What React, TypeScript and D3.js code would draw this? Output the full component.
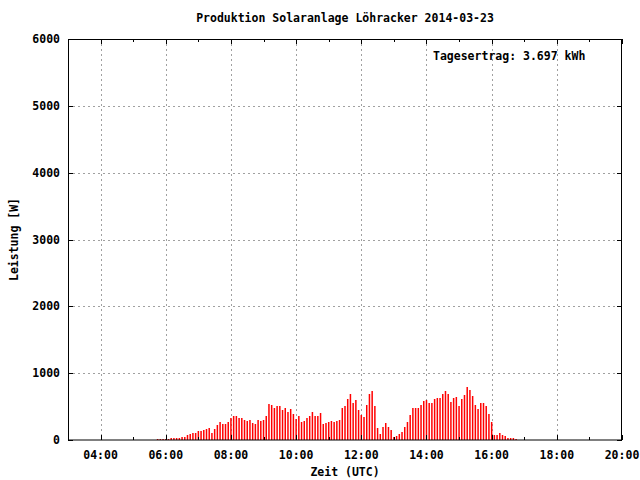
import React from "react";
import * as d3 from "d3";

const TITLE = "Produktion Solaranlage Löhracker 2014-03-23";
const X_LABEL = "Zeit (UTC)";
const Y_LABEL = "Leistung [W]";
const NOTE = "Tagesertrag: 3.697 kWh";

const xTickHours = [4, 6, 8, 10, 12, 14, 16, 18, 20];
const xMinorHours = [3, 5, 7, 9, 11, 13, 15, 17, 19];
const yTicks = [0, 1000, 2000, 3000, 4000, 5000, 6000];

// Power readings (W), 5-minute intervals, grouped per hour
const h05 = [10, 10, 10]; // starts 05:45
const h06 = [15, 15, 30, 30, 30, 30, 45, 45, 75, 90, 105, 105];
const h07 = [135, 135, 150, 165, 180, 105, 165, 225, 270, 240, 240, 270];
const h08 = [330, 360, 360, 330, 330, 300, 285, 300, 255, 240, 300, 285];
const h09 = [300, 360, 540, 525, 480, 510, 510, 450, 480, 420, 465, 390];
const h10 = [315, 360, 270, 285, 330, 360, 420, 360, 360, 405, 240, 255];
const h11 = [270, 285, 270, 285, 300, 480, 510, 615, 690, 555, 600, 450];
const h12 = [375, 345, 525, 690, 735, 510, 180, 90, 195, 255, 195, 150];
const h13 = [45, 60, 90, 120, 195, 270, 375, 480, 480, 480, 525, 585];
const h14 = [600, 555, 555, 615, 630, 630, 690, 735, 690, 570, 630, 645];
const h15 = [510, 615, 675, 795, 750, 660, 525, 465, 555, 555, 510, 390];
const h16 = [270, 75, 75, 105, 75, 60, 30, 30, 30, 15];

const groups = [
  { hour: 5, startMin: 45, values: h05 },
  { hour: 6, startMin: 0, values: h06 },
  { hour: 7, startMin: 0, values: h07 },
  { hour: 8, startMin: 0, values: h08 },
  { hour: 9, startMin: 0, values: h09 },
  { hour: 10, startMin: 0, values: h10 },
  { hour: 11, startMin: 0, values: h11 },
  { hour: 12, startMin: 0, values: h12 },
  { hour: 13, startMin: 0, values: h13 },
  { hour: 14, startMin: 0, values: h14 },
  { hour: 15, startMin: 0, values: h15 },
  { hour: 16, startMin: 0, values: h16 },
];

const points = groups.flatMap((g) =>
  g.values.map((v, i) => ({ t: g.hour + (g.startMin + i * 5) / 60, v }))
);

const FONT = "'DejaVu Sans Mono', 'Liberation Mono', monospace";

export default function App() {
  const left = 68, right = 622, top = 39, bottom = 440;
  const x = d3.scaleLinear().domain([3, 20]).range([left, right]);
  const y = d3.scaleLinear().domain([0, 6000]).range([bottom, top]);
  const fmt = (h: number) => (h < 10 ? "0" : "") + h + ":00";
  const px = (v: number) => Math.round(v) + 0.5;
  const textStyle = { fontFamily: FONT, fontWeight: "bold" as const, fontSize: 11.5 };

  return (
    <svg width={640} height={480} style={{ position: "absolute", left: 0, top: 0, background: "#fff" }}>
      <rect x={0} y={0} width={640} height={480} fill="#fff" />
      {/* grid */}
      <g stroke="#a0a0a0" strokeWidth={1} strokeDasharray="2,3">
        {yTicks.filter((t) => t > 0 && t < 6000).map((t) => (
          <line key={"gy" + t} x1={left} x2={right} y1={px(y(t))} y2={px(y(t))} />
        ))}
        {xTickHours.filter((h) => h < 20).map((h) => (
          <line key={"gx" + h} x1={px(x(h))} x2={px(x(h))} y1={top} y2={bottom} />
        ))}
      </g>
      {/* impulses */}
      <g stroke="#ff0000" strokeWidth={1.5}>
        {points.map((p, i) => (
          <line key={i} x1={x(p.t)} x2={x(p.t)} y1={bottom} y2={Math.round(y(p.v))} />
        ))}
      </g>
      {/* ticks */}
      <g stroke="#000" strokeWidth={1}>
        {yTicks.map((t) => (
          <g key={"ty" + t}>
            <line x1={left} x2={left + 5} y1={px(y(t))} y2={px(y(t))} />
            <line x1={right - 5} x2={right} y1={px(y(t))} y2={px(y(t))} />
          </g>
        ))}
        {xTickHours.map((h) => (
          <g key={"tx" + h}>
            <line x1={px(x(h))} x2={px(x(h))} y1={bottom} y2={bottom - 5} />
            <line x1={px(x(h))} x2={px(x(h))} y1={top} y2={top + 5} />
          </g>
        ))}
        {xMinorHours.map((h) => (
          <g key={"tm" + h}>
            <line x1={px(x(h))} x2={px(x(h))} y1={bottom} y2={bottom - 3} />
            <line x1={px(x(h))} x2={px(x(h))} y1={top} y2={top + 3} />
          </g>
        ))}
      </g>
      {/* border */}
      <rect x={left + 0.5} y={top + 0.5} width={right - left - 1} height={bottom - top - 0.5} fill="none" stroke="#000" strokeWidth={1} />
      {/* labels */}
      <g style={textStyle} fill="#000">
        {yTicks.map((t) => (
          <text key={"ly" + t} x={left - 8} y={y(t)} dy="0.35em" textAnchor="end">{t}</text>
        ))}
        {xTickHours.map((h) => (
          <text key={"lx" + h} x={x(h)} y={bottom + 15} dy="0.35em" textAnchor="middle">{fmt(h)}</text>
        ))}
        <text x={(left + right) / 2} y={18} dy="0.35em" textAnchor="middle">{TITLE}</text>
        <text x={(left + right) / 2} y={472} dy="0.35em" textAnchor="middle">{X_LABEL}</text>
        <text transform={`translate(14,${(top + bottom) / 2}) rotate(-90)`} dy="0.35em" textAnchor="middle">{Y_LABEL}</text>
        <text x={433} y={56} dy="0.35em" textAnchor="start">{NOTE}</text>
      </g>
    </svg>
  );
}
